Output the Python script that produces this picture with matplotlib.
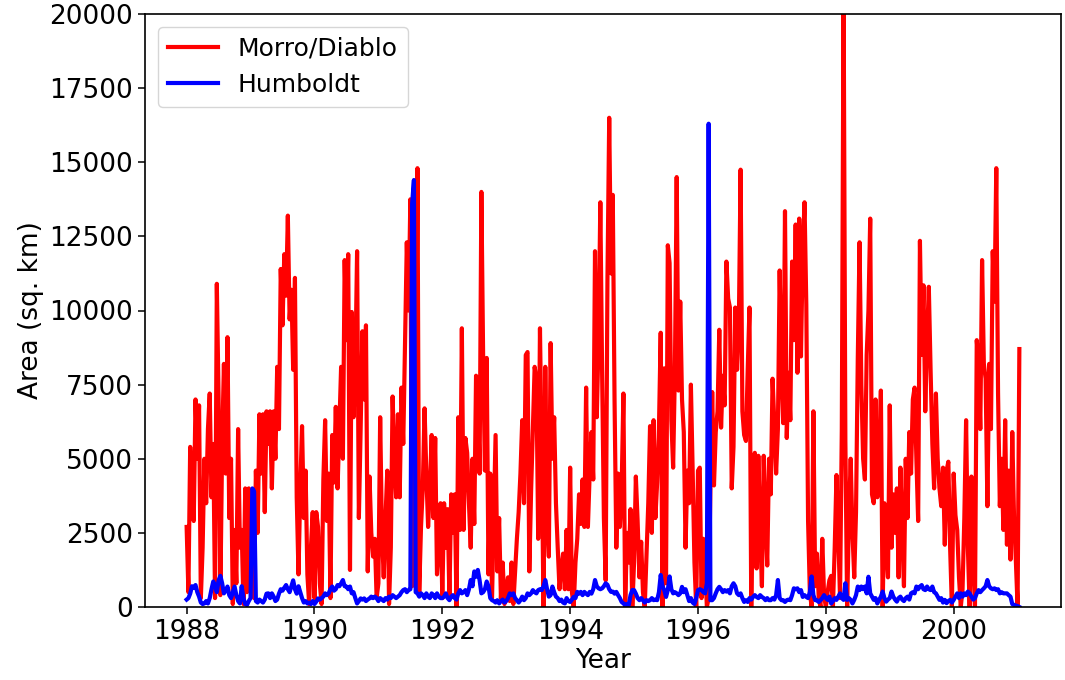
#!/usr/bin/env python3
# Upwelling area time series, Morro/Diablo vs Humboldt

import matplotlib
matplotlib.use("Agg")
import matplotlib.pyplot as plt
import numpy as np

# samples per year (roughly every 10 days), series starts 1988.0
steps_per_year = 36
start_year = 1988

# Morro/Diablo area (sq. km), one list per year
red_1988 = [2700, 500, 5400, 4000, 2900, 7000, 5000, 6800, 300, 2000, 5000, 3500,
            6000, 7200, 3700, 5500, 300, 10900, 7000, 400, 5500, 8200, 4500, 9100,
            3000, 5000, 100, 2600, 800, 6000, 2000, 2600, 100, 4000, 500, 4000]
red_1989 = [3500, 1000, 300, 4600, 2500, 6500, 4500, 6500, 3200, 6600, 5500, 6600,
            4000, 6600, 5000, 8100, 6000, 11400, 9500, 11900, 10500, 13200, 9700, 10700,
            8000, 11100, 3700, 1100, 4000, 6100, 3000, 4600, 1100, 100, 2000, 3200]
red_1990 = [300, 3200, 2700, 800, 100, 4300, 6300, 2900, 4500, 300, 5800, 4200,
            6750, 4000, 6000, 8100, 5000, 11700, 9000, 11900, 1250, 9950, 6400, 8000,
            12000, 3000, 6000, 9300, 7000, 9500, 1200, 4400, 2500, 1700, 2300, 300]
red_1991 = [800, 6400, 2500, 1000, 3000, 4600, 100, 2000, 7100, 5000, 3700, 6500,
            3700, 7400, 5500, 9000, 12300, 10000, 13750, 700, 1500, 5000, 14800, 500,
            2700, 4000, 6700, 4500, 2700, 4000, 5800, 3000, 5700, 1100, 2000, 3500]
red_1992 = [300, 3500, 2000, 3300, 300, 3800, 2500, 3800, 0, 6400, 2600, 9400,
            2600, 5700, 5200, 3500, 2000, 5000, 2800, 7800, 7200, 4500, 14000, 8400,
            4600, 8400, 1100, 4500, 300, 3000, 5800, 1200, 3000, 300, 1500, 100]
red_1993 = [600, 1000, 200, 1500, 100, 1200, 2300, 3200, 4500, 6300, 3500, 8500,
            8600, 1200, 3900, 6000, 8100, 7700, 2300, 9400, 5000, 0, 8100, 3000,
            1700, 8900, 5000, 6400, 3500, 2000, 600, 1300, 1800, 600, 2600, 600]
red_1994 = [4700, 500, 0, 1500, 2300, 3800, 2800, 4300, 2700, 7400, 2700, 4500,
            5900, 4300, 12000, 6400, 9000, 13650, 7900, 3000, 900, 11000, 16500, 11250,
            13900, 7000, 2000, 4500, 2700, 4000, 7200, 0, 2500, 1500, 3300, 0]
red_1995 = [1500, 4400, 2900, 1000, 2200, 500, 0, 1800, 3500, 6100, 2500, 6300,
            3000, 4200, 6000, 9250, 0, 8050, 800, 12200, 11600, 6300, 4700, 8000,
            14500, 7300, 10300, 7000, 5900, 2000, 4600, 3500, 7500, 4600, 1500, 0]
red_1996 = [4600, 4700, 300, 2300, 1500, 0, 300, 4000, 7250, 4100, 5900, 6600,
            9350, 6050, 7800, 6800, 11650, 10400, 10100, 4000, 5400, 10100, 8000, 9500,
            14750, 6600, 5800, 5600, 8000, 10100, 0, 4300, 5200, 1300, 5100, 2500]
red_1997 = [700, 5100, 3000, 1400, 5000, 3800, 7700, 6200, 4500, 6000, 11350, 8000,
            6200, 13350, 5700, 7900, 6300, 11650, 9000, 12900, 7900, 13100, 8450, 12000,
            13650, 10200, 2900, 500, 0, 6600, 700, 1800, 300, 0, 2300, 400]
red_1998 = [0, 500, 900, 1050, 0, 2000, 4450, 2500, 300, 6000, 21000, 5600,
            0, 3000, 5000, 2500, 1000, 3200, 8400, 12300, 7500, 5000, 4300, 8500,
            10000, 13100, 3800, 3500, 7000, 3700, 5000, 7300, 0, 3500, 2000, 1000]
red_1999 = [6800, 2000, 3800, 2500, 4000, 1000, 4700, 2500, 700, 5000, 3000, 5900,
            4500, 7000, 7400, 5000, 2900, 12350, 8500, 10850, 6600, 9000, 10800, 8000,
            5500, 4000, 7200, 5000, 4000, 3400, 4700, 2100, 4600, 4900, 2000, 0]
red_2000 = [4500, 3100, 2600, 1000, 0, 600, 3000, 6300, 2000, 0, 4400, 1500,
            0, 9000, 8200, 6000, 11700, 8200, 7700, 3400, 8200, 6000, 12000, 10300,
            14800, 7200, 3400, 5000, 2600, 6300, 2100, 4600, 1600, 5900, 3000, 1600]
red_2001 = [0, 8700]

# Humboldt area (sq. km)
blue_1988 = [250, 300, 450, 700, 650, 740, 500, 350, 150, 100, 120, 200,
             120, 300, 600, 860, 700, 500, 900, 1050, 800, 460, 550, 690,
             400, 300, 500, 690, 400, 200, 120, 700, 300, 100, 70, 200]
blue_1989 = [300, 4000, 3900, 200, 150, 250, 200, 150, 250, 450, 460, 300,
             460, 350, 200, 250, 450, 600, 550, 650, 740, 600, 500, 700,
             900, 600, 450, 700, 500, 300, 150, 200, 120, 150, 100, 200]
blue_1990 = [100, 180, 290, 250, 300, 350, 460, 400, 460, 600, 690, 550,
             600, 740, 700, 800, 910, 700, 690, 600, 690, 460, 500, 300,
             120, 200, 290, 250, 290, 200, 250, 290, 350, 300, 350, 300]
blue_1991 = [200, 300, 250, 200, 300, 250, 350, 300, 400, 350, 300, 350,
             400, 500, 570, 600, 500, 570, 600, 13600, 14400, 500, 460, 350,
             460, 400, 300, 460, 350, 300, 460, 400, 300, 460, 350, 300]
blue_1992 = [300, 350, 460, 300, 230, 350, 400, 300, 250, 460, 570, 460,
             500, 570, 400, 600, 910, 700, 1200, 1020, 1250, 900, 460, 500,
             600, 860, 700, 300, 230, 200, 150, 230, 120, 200, 250, 150]
blue_1993 = [200, 300, 460, 400, 460, 300, 230, 150, 230, 350, 230, 300,
             460, 400, 460, 570, 500, 460, 570, 600, 570, 700, 910, 600,
             350, 400, 690, 500, 350, 300, 200, 250, 150, 120, 300, 200]
blue_1994 = [170, 250, 340, 300, 510, 450, 510, 400, 510, 450, 400, 510,
             450, 600, 910, 700, 630, 600, 630, 700, 800, 750, 600, 510,
             520, 450, 510, 400, 300, 170, 120, 60, 100, 60, 400, 570]
blue_1995 = [570, 450, 300, 230, 300, 230, 150, 230, 200, 230, 300, 230,
             250, 230, 500, 1080, 700, 570, 340, 570, 1030, 600, 460, 500,
             460, 400, 460, 680, 500, 600, 400, 200, 300, 150, 100, 300]
blue_1996 = [570, 600, 570, 500, 460, 800, 16300, 230, 230, 300, 460, 600,
             680, 600, 500, 570, 520, 570, 460, 700, 800, 700, 460, 400,
             460, 300, 170, 230, 170, 300, 250, 340, 400, 340, 300, 400]
blue_1997 = [340, 300, 230, 300, 230, 230, 300, 250, 400, 910, 300, 230,
             230, 170, 230, 250, 230, 400, 630, 600, 630, 500, 570, 340,
             400, 340, 300, 500, 1030, 400, 230, 230, 170, 230, 300, 400]
blue_1998 = [300, 240, 350, 120, 200, 300, 240, 350, 460, 300, 240, 800,
             240, 300, 240, 120, 240, 400, 690, 570, 690, 600, 690, 460,
             1020, 460, 350, 240, 300, 120, 240, 350, 520, 300, 180, 250]
blue_1999 = [300, 520, 350, 250, 180, 300, 350, 250, 200, 300, 350, 250,
             460, 500, 460, 690, 600, 690, 740, 600, 570, 690, 600, 570,
             690, 500, 460, 350, 240, 300, 150, 240, 130, 200, 240, 150]
blue_2000 = [240, 350, 460, 300, 460, 350, 460, 400, 520, 460, 350, 250,
             300, 460, 570, 500, 570, 630, 700, 910, 700, 630, 600, 630,
             570, 600, 460, 500, 460, 460, 460, 400, 350, 100, 70, 50]
blue_2001 = [30, 0]

year_ticks = [1988, 1990, 1992, 1994, 1996, 1998, 2000]
area_ticks = [0, 2500, 5000, 7500, 10000, 12500, 15000, 17500, 20000]


def build_series(*years):
    values = np.concatenate([np.asarray(y, dtype=float) for y in years])
    dates = start_year + np.arange(len(values)) / steps_per_year
    return dates, values


def main():
    red_t, red_v = build_series(red_1988, red_1989, red_1990, red_1991, red_1992,
                                red_1993, red_1994, red_1995, red_1996, red_1997,
                                red_1998, red_1999, red_2000, red_2001)
    blue_t, blue_v = build_series(blue_1988, blue_1989, blue_1990, blue_1991, blue_1992,
                                  blue_1993, blue_1994, blue_1995, blue_1996, blue_1997,
                                  blue_1998, blue_1999, blue_2000, blue_2001)

    fig = plt.figure(figsize=(10.65, 6.8), dpi=100)
    ax = fig.add_axes([145 / 1065, 73 / 680, 916 / 1065, 593 / 680])

    ax.plot(red_t, red_v, color='red', linewidth=3.0, label='Morro/Diablo')
    ax.plot(blue_t, blue_v, color='blue', linewidth=3.0, label='Humboldt')

    ax.set_ylim(0, 20000)
    ax.set_xticks(year_ticks)
    ax.set_xticklabels([str(y) for y in year_ticks])
    ax.set_yticks(area_ticks)
    ax.set_yticklabels([str(a) for a in area_ticks])
    ax.tick_params(labelsize=19, length=5, width=1.1)
    for sp in ax.spines.values():
        sp.set_linewidth(1.2)

    ax.set_xlabel('Year', fontsize=19, labelpad=2)
    ax.set_ylabel('Area (sq. km)', fontsize=19)
    ax.legend(loc='upper left', fontsize=18)

    fig.savefig('out.png', dpi=100)


if __name__ == "__main__":
    main()
